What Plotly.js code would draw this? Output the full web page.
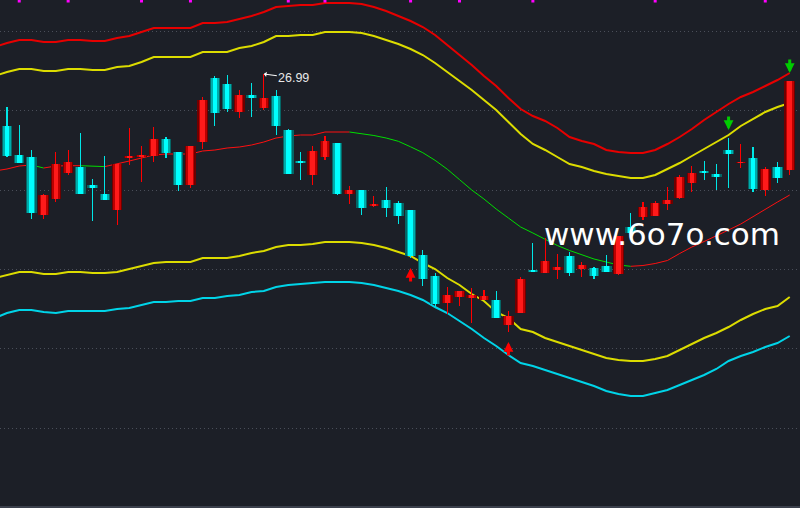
<!DOCTYPE html>
<html><head><meta charset="utf-8">
<script src="https://cdn.plot.ly/plotly-3.0.1.min.js"></script>
<style>html,body{margin:0;padding:0;background:#1c1f27;overflow:hidden}#chart{width:800px;height:508px}</style>
</head><body><div id="chart"></div>
<script>
// ---- candle data (index 0..64) ----
const open  = [26.47,26.18,26.16,25.58,25.74,26.00,26.06,25.88,25.79,25.63,26.15,26.16,26.17,26.34,26.21,25.88,26.31,26.95,26.89,26.61,26.78,26.65,26.77,26.43,26.12,25.98,26.16,26.30,25.79,25.83,25.67,25.73,25.70,25.63,25.18,24.97,24.70,24.76,24.75,24.73,24.73,24.48,24.60,25.03,25.00,25.03,25.17,25.04,25.05,25.07,24.99,25.46,25.56,25.57,25.69,25.75,25.90,26.02,25.99,26.23,26.10,26.15,25.83,26.06,26.03];
const high  = [26.66,26.48,26.23,25.79,26.21,26.23,26.40,25.94,26.17,26.09,26.45,26.27,26.46,26.36,26.21,26.27,26.76,26.97,26.98,26.83,26.90,26.99,26.83,26.44,26.21,26.27,26.37,26.30,25.87,25.83,25.77,25.86,25.72,25.63,25.23,25.00,24.86,24.82,24.85,24.83,24.82,24.62,24.96,25.30,25.35,25.19,25.21,25.11,25.06,25.18,25.37,25.60,25.71,25.72,25.86,25.98,26.07,26.12,26.09,26.35,26.29,26.26,26.06,26.11,26.92];
const low   = [26.16,26.10,25.54,25.54,25.71,25.98,25.79,25.52,25.73,25.48,26.08,25.91,26.11,26.15,25.82,25.85,26.24,26.47,26.61,26.55,26.56,26.63,26.38,25.99,25.93,25.88,26.13,25.78,25.69,25.58,25.66,25.56,25.49,25.15,24.87,24.66,24.59,24.67,24.50,24.73,24.55,24.41,24.60,25.01,25.00,24.94,24.97,24.96,24.94,25.01,24.98,25.37,25.53,25.57,25.63,25.74,25.81,25.93,25.83,25.85,26.05,25.81,25.77,25.90,25.98];
const close = [26.17,26.10,25.60,25.78,26.09,26.11,25.79,25.85,25.73,26.09,26.17,26.18,26.34,26.20,25.88,26.27,26.73,26.60,26.64,26.78,26.75,26.75,26.47,25.99,26.10,26.22,26.32,25.79,25.83,25.65,25.69,25.65,25.57,25.17,24.94,24.69,24.78,24.82,24.78,24.77,24.55,24.57,24.94,25.01,25.12,25.06,25.00,25.08,24.97,25.01,25.37,25.40,25.66,25.70,25.73,25.96,26.00,26.00,25.96,26.19,26.11,25.84,26.04,25.95,26.92];

// ---- indicator lines (index -1..64) ----
const upperOuter = [27.26,27.30,27.33,27.33,27.31,27.31,27.33,27.33,27.32,27.32,27.35,27.37,27.41,27.45,27.45,27.45,27.45,27.50,27.50,27.51,27.54,27.57,27.61,27.66,27.67,27.68,27.68,27.70,27.70,27.70,27.69,27.66,27.62,27.57,27.52,27.46,27.38,27.28,27.18,27.08,26.97,26.87,26.75,26.64,26.57,26.52,26.45,26.36,26.32,26.29,26.23,26.21,26.20,26.20,26.23,26.29,26.36,26.44,26.53,26.61,26.69,26.76,26.81,26.87,26.93,27.00];
const upperInner = [26.97,27.01,27.04,27.04,27.02,27.02,27.04,27.04,27.03,27.03,27.06,27.07,27.11,27.16,27.16,27.16,27.16,27.21,27.21,27.21,27.25,27.27,27.31,27.37,27.37,27.38,27.38,27.41,27.41,27.41,27.40,27.37,27.33,27.29,27.24,27.18,27.10,27.01,26.92,26.83,26.73,26.63,26.51,26.39,26.29,26.23,26.16,26.09,26.06,26.02,25.99,25.97,25.95,25.95,25.98,26.04,26.10,26.17,26.24,26.31,26.38,26.47,26.54,26.61,26.66,26.70];
const midLine    = [26.02,26.04,26.07,26.08,26.05,26.07,26.073,26.073,26.067,26.064,26.09,26.12,26.15,26.18,26.19,26.19,26.19,26.22,26.23,26.25,26.26,26.28,26.31,26.35,26.37,26.38,26.38,26.41,26.41,26.41,26.395,26.375,26.35,26.317,26.262,26.203,26.127,26.038,25.934,25.83,25.74,25.64,25.55,25.46,25.40,25.34,25.275,25.225,25.185,25.14,25.11,25.08,25.067,25.075,25.095,25.125,25.195,25.26,25.315,25.37,25.43,25.49,25.565,25.64,25.71,25.78];
const lowerInner = [24.95,24.98,25.01,25.01,24.99,24.99,25.01,25.01,25.00,25.00,25.01,25.04,25.07,25.10,25.11,25.11,25.11,25.15,25.15,25.15,25.17,25.20,25.22,25.26,25.28,25.28,25.29,25.31,25.31,25.31,25.30,25.28,25.25,25.21,25.17,25.10,25.04,24.95,24.88,24.79,24.72,24.61,24.55,24.44,24.41,24.35,24.31,24.27,24.23,24.19,24.15,24.13,24.12,24.12,24.14,24.17,24.23,24.29,24.35,24.40,24.46,24.53,24.59,24.64,24.67,24.76];
const lowerOuter = [24.55,24.60,24.63,24.63,24.61,24.60,24.62,24.62,24.62,24.62,24.64,24.65,24.68,24.71,24.71,24.72,24.72,24.75,24.75,24.77,24.78,24.81,24.82,24.86,24.88,24.89,24.90,24.91,24.91,24.91,24.90,24.88,24.85,24.82,24.78,24.73,24.66,24.60,24.52,24.44,24.35,24.27,24.18,24.10,24.07,24.03,23.99,23.95,23.91,23.87,23.82,23.79,23.77,23.77,23.80,23.83,23.88,23.93,23.98,24.04,24.12,24.17,24.21,24.26,24.30,24.37];

// ---- signals and marks ----
const buySignals  = [33, 41];
const sellSignals = [59, 64];
const dateMarks   = [1, 5, 11, 15, 23, 26, 33, 37, 43, 53, 62];
const watermark   = 'www.6o7o.com';

// ---- build ----
const idx = open.map((_, i) => i);
const lineIdx = upperOuter.map((_, i) => i - 1);
const isUp = open.map((o, i) => close[i] >= o);
const bodyBase = open.map((o, i) => Math.min(o, close[i]));
const bodyLen = open.map((o, i) => Math.max(Math.abs(close[i] - o), 0.015));
const xRange = [-0.572, 64.84];
const yRange = [22.67, 27.73];

const traces = [];
function band(y, color, w) {
  return {type: 'scatter', mode: 'lines', x: lineIdx, y: y, line: {color: color, width: w}, hoverinfo: 'skip'};
}
traces.push(band(upperOuter, '#e60000', 2));
traces.push(band(upperInner, '#dcdc00', 2));
traces.push(band(lowerInner, '#dcdc00', 2));
traces.push(band(lowerOuter, '#00d4e8', 2));

// middle line coloured by direction
for (let i = 0; i < midLine.length - 1;) {
  const rising = midLine[i + 1] >= midLine[i];
  let j = i + 1;
  while (j < midLine.length - 1 && (midLine[j + 1] >= midLine[j]) === rising) j++;
  traces.push({type: 'scatter', mode: 'lines', x: lineIdx.slice(i, j + 1), y: midLine.slice(i, j + 1),
    line: {color: rising ? '#ff1010' : '#00dd00', width: 1}, hoverinfo: 'skip'});
  i = j;
}

// wicks
traces.push({type: 'bar', xaxis: 'x2', yaxis: 'y2', x: idx, base: low, y: high.map((h, i) => h - low[i]),
  width: 0.09, marker: {color: isUp.map(u => u ? '#ff0000' : '#00e6e6'), line: {width: 0}}, hoverinfo: 'skip'});
// bodies with shading layers
const layers = [[0.86, '#6e0000', '#046666'], [0.66, '#bb0000', '#00aaaa'], [0.38, '#ff1a1a', '#00ffff']];
layers.forEach(function (l) {
  traces.push({type: 'bar', xaxis: 'x2', yaxis: 'y2', x: idx, base: bodyBase, y: bodyLen, width: l[0],
    marker: {color: isUp.map(u => u ? l[1] : l[2]), line: {width: 0}}, hoverinfo: 'skip'});
});

// date marks on top edge
traces.push({type: 'scatter', mode: 'markers', xaxis: 'x2', yaxis: 'y3', x: dateMarks, y: dateMarks.map(() => 0.998),
  marker: {symbol: 'square', size: 3, color: '#ff00ff'}, cliponaxis: false, hoverinfo: 'skip'});

// annotations
let hiIdx = 0;
high.forEach((h, i) => { if (h > high[hiIdx]) hiIdx = i; });
const annotations = [];
annotations.push({xref: 'x2', yref: 'y2', x: hiIdx, y: high[hiIdx], text: high[hiIdx].toFixed(2),
  showarrow: true, ax: 30, ay: 4, arrowhead: 1, arrowsize: 0.9, arrowwidth: 1, arrowcolor: '#ffffff', standoff: 0,
  font: {family: 'Liberation Sans, Arial, sans-serif', size: 12.5, color: '#e8e8e8'}});
buySignals.forEach(function (i) {
  annotations.push({xref: 'x2', yref: 'y2', x: i, y: low[i], text: '', showarrow: true, ax: 0, ay: 14, yshift: -10,
    arrowhead: 2, arrowsize: 0.65, arrowwidth: 3, arrowcolor: '#ff0000', standoff: 0, borderpad: 0, font: {size: 1}});
});
sellSignals.forEach(function (i) {
  annotations.push({xref: 'x2', yref: 'y2', x: i, y: high[i], text: '', showarrow: true, ax: 0, ay: -14, yshift: 8,
    arrowhead: 2, arrowsize: 0.65, arrowwidth: 3, arrowcolor: '#00cc00', standoff: 0, borderpad: 0, font: {size: 1}});
});
annotations.push({xref: 'paper', yref: 'paper', x: 0.8275, y: 0.5375, xanchor: 'center', yanchor: 'middle',
  text: watermark, showarrow: false, font: {family: 'DejaVu Sans, sans-serif', size: 31, color: '#ffffff'}});

const layout = {
  width: 800, height: 508, margin: {l: 0, r: 0, t: 0, b: 2, pad: 0},
  paper_bgcolor: '#1c1f27', plot_bgcolor: '#1c1f27',
  showlegend: false, barmode: 'overlay', bargap: 0, hovermode: false,
  xaxis: {range: xRange, showgrid: false, zeroline: false, showticklabels: false, ticks: '',
    showline: true, linecolor: '#3b404c', linewidth: 2},
  yaxis: {range: yRange, tick0: 27.415, dtick: 0.793, showgrid: true, gridcolor: '#4a4e59', griddash: '1px,3px',
    gridwidth: 1, zeroline: false, showticklabels: false, ticks: ''},
  xaxis2: {overlaying: 'x', range: xRange, visible: false},
  yaxis2: {overlaying: 'y', range: yRange, visible: false},
  yaxis3: {overlaying: 'y', range: [0, 1], visible: false},
  annotations: annotations
};
Plotly.newPlot('chart', traces, layout, {staticPlot: true, displayModeBar: false});
</script>
</body></html>
